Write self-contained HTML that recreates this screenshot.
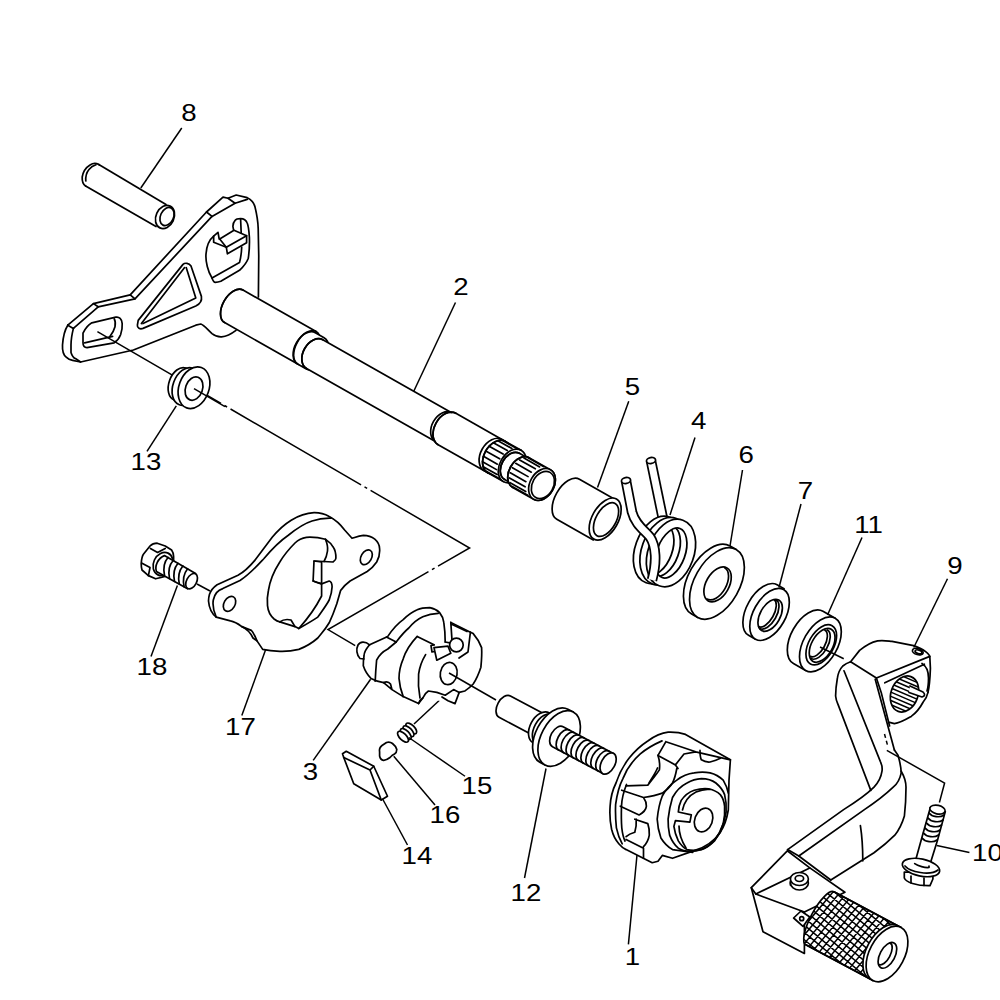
<!DOCTYPE html>
<html><head><meta charset="utf-8">
<style>
html,body{margin:0;padding:0;background:#fff;width:1000px;height:1000px;overflow:hidden}
svg{display:block}
text{font-family:"Liberation Sans",sans-serif;font-size:24.5px;fill:#000}
.s{fill:none;stroke:#000;stroke-width:1.7;stroke-linejoin:round;stroke-linecap:round}
.w{fill:#fff;stroke:#000;stroke-width:1.7;stroke-linejoin:round;stroke-linecap:round}
.l{fill:none;stroke:#000;stroke-width:1.5}
.d{fill:none;stroke:#000;stroke-width:1.5;stroke-dasharray:24 5 3 5}
</style></head><body>
<svg width="1000" height="1000" viewBox="0 0 1000 1000">
<!-- dash-dot axis lines -->
<g class="l">
<path d="M97.4,331.6 L469.6,548 L328,629.6 L355.2,645.6" style="stroke-dasharray:151 4 3 4;stroke-dashoffset:8"/>
<path d="M197,584 L210,591"/>
<path d="M414,724 L444,696"/>
</g>

<!-- PIN 8 -->
<g class="s">
<path d="M98.8,164.4 L166,204.5"/>
<path d="M85.6,186 L156,226.5"/>
<path d="M98.8,164.4 C96,163 93,163 90,165 C86,167.5 83,172 82.2,177 C82,181 83,184.5 85.6,186"/>
<path d="M85.8,181 C85.5,177 86.5,172.5 89,169.5 C91,167 93.5,165.5 96,164.8"/>
<ellipse cx="165" cy="217" rx="9" ry="12" transform="rotate(25 165 217)"/>
<ellipse cx="167" cy="216.5" rx="6.5" ry="9.5" transform="rotate(25 167 216.5)"/>
</g>

<!-- PLATE 2 -->
<g class="s">
<path d="M67.8,325.2 L93.4,303.6 L130.2,294.8 L206.5,212 L223,197.2 L228,198.25 L236.2,195 L247.2,197.7 C252,200 254,203 254.9,206.5 C257,215 258,222 258.2,228.5 L258.75,256 L258.4,297"/>
<path d="M73.4,328.4 L98.2,306.8 L135,298.8 L212,216.4 L235.1,203.2 L247.2,199.35"/>
<path d="M67.8,325.2 L73.4,328.4 M93.4,303.6 L98.2,306.8 M130.2,294.8 L135,298.8 M206.5,212 L212,216.4 M228,198.25 L235.1,203.2"/>
<path d="M67.8,325.2 C64,331 63,338 62.5,345 C62.2,351 63.5,355 66.2,357.2 C68,359 70,360 72.6,360.4 L80.6,362 L133.4,350 L195.8,325.2 L200.8,324 C204,325 207,329 212,333.6 C215,336 218,337 221.6,336.8 C226,336.5 230,335 236,330.4"/>
<path d="M73.4,328.4 C72,334 71,339.6 71,345 L71,352.4 C72,356 74,358 75.8,358.8 L80.6,362"/>
<!-- slot hole -->
<path d="M83,333.2 C85,329 88,325 91.8,322.8 L115.8,317.2 C119,316.5 122,319 122.2,323.6 C122.5,328 121.5,332 120.6,334.8 C119,339 117,341 114.2,342.8 L87,347.6 C84,347.6 83,345 83,342.8 Z"/>
<path d="M84.6,342.8 L112.6,336.4"/>
<path d="M114.2,318.8 C115.5,321 115.5,324 115,326.8 C114,331 112,334 109.4,337.2"/>
<!-- triangle cutout -->
<path d="M138.2,320.4 L183,264.4 C185,262.5 189,263 191,266 L201.4,296.4 C202,300 200,304 195.8,306 L143,328.4 C140,329.5 137,328 137.4,325.2 Z"/>
<path d="M141.4,323.6 L184.6,267.6"/>
<path d="M186.2,267.6 L195.8,298 L143,323.6"/>
<!-- right slot with key -->
<path d="M213.65,236.2 C209,240 206.5,247 206,254 C205.4,261.5 208,272 212,278 C213,281 214,282.4 215.3,282.4 C217,282.4 219,282 220.8,281.3 L239.5,270.3 C244,266 247,262 248.3,258.2 C249.5,250 249.6,243 249.4,237.3 C249,231 248.5,226 247.2,223 C246,220 243,218.6 240.6,218.6 C238,218.6 236,219 235.1,220.3 C233.5,222 233,224 232.9,226.3 L233.5,229.6"/>
<path d="M212,278 L239.5,262.6 C241,257 241.5,252 241.7,247.2"/>
<path d="M219.7,239 L234,230.2 L246.6,235.7 L226.3,247.2 Z"/>
<path d="M226.3,247.2 L227.4,253.8 L246.6,242.8 L246.6,235.7"/>
<path d="M213.65,236.2 L218,232.4 L219.2,239 L219.7,239 M213.65,236.2 L213.65,242.3 L226.3,247.2"/>
<path d="M240.6,219 L241.2,233"/>
</g>

<!-- SHAFT 2 -->
<g class="w">
<g transform="translate(542 484.5) rotate(29.5)">
<path d="M-356,-22 L-272,-22 A11,18.7 0 0 1 -272,15.4 L-356,15.4 A11,18.7 0 0 1 -356,-22 Z"/>
<path style="fill:none" d="M-356,-22 A11,18.7 0 0 0 -356,15.4"/>
<path d="M-272,-20.5 L-262,-20.5 A11.5,18 0 0 1 -262,15.5 L-272,15.5 A11.5,18 0 0 1 -272,-20.5 Z"/>
<path d="M-262,-18 L-114,-18 A11.5,16.5 0 0 1 -114,15 L-262,15 A11.5,16.5 0 0 1 -262,-18 Z"/>
<path style="fill:none" d="M-272,-22 A11,18.7 0 0 0 -272,15.4 M-262,-18 A11.5,16.5 0 0 0 -262,15"/>
<path d="M-110,-19.5 L-53,-19.5 A12.5,18 0 0 1 -53,16.5 L-110,16.5 A12.5,18 0 0 1 -110,-19.5 Z"/>
<path style="fill:none" d="M-114,-18 A11.5,16.5 0 0 0 -114,15 M-110,-19.5 A12.5,18 0 0 0 -110,16.5"/>
<path d="M-53,-19.5 L-35,-19.5 A12.5,18 0 0 1 -35,16.5 L-53,16.5 A12.5,18 0 0 1 -53,-19.5 Z"/>
<path style="fill:none" d="M-57,-19.5 A12.5,18 0 0 0 -57,16.5 M-53,-19.5 A12.5,18 0 0 0 -53,16.5"/>
<path d="M-56.24,15.89 L-40.24,15.89 M-59.94,13.47 L-43.94,13.47 M-62.92,9.46 L-46.92,9.46 M-64.84,4.29 L-48.84,4.29 M-65.5,-1.5 L-49.5,-1.5 M-64.84,-7.29 L-48.84,-7.29 M-62.92,-12.46 L-46.92,-12.46 M-59.94,-16.47 L-43.94,-16.47 M-56.24,-18.89 L-40.24,-18.89"/>
<path style="fill:none" d="M-35,-19.5 A12.5,18 0 0 0 -35,16.5"/>
<path d="M-35,-16 L-24,-16 A10.5,15 0 0 1 -24,14 L-35,14 A10.5,15 0 0 1 -35,-16 Z"/>
<path style="fill:none" d="M-35,-16 A10.5,15 0 0 0 -35,14"/>
<path d="M-24,-17 L0,-17 A12,17 0 0 1 0,17 L-24,17 A12,17 0 0 1 -24,-17 Z"/>
<path style="fill:none" d="M-24,-17 A12,17 0 0 0 -24,17"/>
<path d="M-25.11,16.42 L-7.11,16.42 M-28.67,14.13 L-10.67,14.13 M-31.52,10.35 L-13.52,10.35 M-33.36,5.46 L-15.36,5.46 M-34,0 L-16,0 M-33.36,-5.46 L-15.36,-5.46 M-31.52,-10.35 L-13.52,-10.35 M-28.67,-14.13 L-10.67,-14.13 M-25.11,-16.42 L-7.11,-16.42"/>
<ellipse cx="0" cy="0" rx="12" ry="17"/>
<ellipse cx="1" cy="0" rx="10.5" ry="14.5"/>
</g></g>
<!-- WASHER 13 -->
<g class="w">
<ellipse cx="180" cy="384" rx="11" ry="17" transform="rotate(20 180 384)"/>
<ellipse cx="186" cy="386.5" rx="13" ry="19.5" transform="rotate(20 186 386.5)"/>
<ellipse cx="194" cy="387.7" rx="15" ry="21.5" transform="rotate(20 194 387.7)"/>
<ellipse cx="194" cy="388.6" rx="8.5" ry="12" transform="rotate(20 194 388.6)"/>
</g>
<path class="l" d="M194,388.6 L225,406.7"/>

<!-- AXIS PARTS 5 6 7 11 -->
<g class="w">
<g transform="translate(542 484.5) rotate(29.5)">
<path d="M30,-23 L72,-23 L72,23 L30,23 A13,23 0 0 1 30,-23 Z"/>
<ellipse cx="72" cy="-1" rx="13" ry="23"/>
<ellipse cx="73" cy="-1" rx="10" ry="18.5"/>
<path d="M194,-39 L201,-39 L201,39 L194,39 A22.5,39 0 0 1 194,-39 Z"/>
<ellipse cx="201" cy="0" rx="22.5" ry="39"/>
<ellipse cx="202" cy="0.5" rx="11.5" ry="19"/>
<path style="fill:none" d="M200,-17.5 A10.5,18 0 0 1 200,18.5"/>
<path d="M254,-28.5 L262,-28.5 L262,29.5 L254,29.5 A16,29 0 0 1 254,-28.5 Z"/>
<ellipse cx="262" cy="1" rx="16" ry="28.5"/>
<ellipse cx="263" cy="1.5" rx="10" ry="17.5"/>
<path style="fill:none" d="M260.5,-15 A8.5,16.5 0 0 1 260.5,18 M258.5,-14 A7.5,15.5 0 0 1 258.5,17"/>
<path d="M307,-28 L321,-28 L321,32 L307,32 A17,30 0 0 1 307,-28 Z"/>
<ellipse cx="321" cy="2" rx="17" ry="30"/>
<ellipse cx="322" cy="2" rx="12.5" ry="22"/>
<ellipse cx="323" cy="2" rx="10.5" ry="18.5"/>
<path style="fill:none" d="M320,-14 A8.5,16.5 0 0 1 320,19 M318,-12.5 A7.5,15 0 0 1 318,17.5"/>
</g></g>
<!-- SPRING 4 -->
<path d="M651,461 L664,524" style="fill:none;stroke:#000;stroke-width:10.5;stroke-linecap:butt"/><path d="M651,461 L664,524" style="fill:none;stroke:#fff;stroke-width:7;stroke-linecap:butt"/>
<ellipse class="w" cx="651" cy="460.5" rx="4.6" ry="3.0" transform="rotate(-12 651 460.5)"/>
<ellipse cx="658" cy="550.0" rx="18.5" ry="30.5" transform="rotate(20 658 550.0)" style="fill:none;stroke:#000;stroke-width:10.5"/>
<ellipse cx="658" cy="550.0" rx="18.5" ry="30.5" transform="rotate(20 658 550.0)" style="fill:none;stroke:#fff;stroke-width:7"/>
<ellipse cx="664.5" cy="551.3" rx="18.5" ry="30.5" transform="rotate(20 664.5 551.3)" style="fill:none;stroke:#000;stroke-width:10.5"/>
<ellipse cx="664.5" cy="551.3" rx="18.5" ry="30.5" transform="rotate(20 664.5 551.3)" style="fill:none;stroke:#fff;stroke-width:7"/>
<ellipse cx="671" cy="553.0" rx="18.5" ry="30.5" transform="rotate(20 671 553.0)" style="fill:none;stroke:#000;stroke-width:10.5"/>
<ellipse cx="671" cy="553.0" rx="18.5" ry="30.5" transform="rotate(20 671 553.0)" style="fill:none;stroke:#fff;stroke-width:7"/>
<path d="M626,481 L632,512 C635,524 644,530 650,537 C656,546 657,562 652,580" style="fill:none;stroke:#000;stroke-width:10.5;stroke-linecap:butt"/><path d="M626,481 L632,512 C635,524 644,530 650,537 C656,546 657,562 652,580" style="fill:none;stroke:#fff;stroke-width:7;stroke-linecap:butt"/>
<ellipse class="w" cx="626" cy="480.5" rx="4.6" ry="3.0" transform="rotate(-12 626 480.5)"/>
<!-- PEDAL 9 -->
<g class="w">
<!-- arm fill silhouette -->
<path style="stroke:none" d="M850.6,661.8 L842.8,666 L837.4,678 L835.6,696 L838,704.4 L870.8,790.4 L825,830 L787.6,849.6 L751.3,887.7 L763,931.8 L804.4,953.4 L830.8,880 L874,852.8 L894.8,835.2 L904.4,816 L906,787.2 L901.2,771.2 L898,755.2 L894.4,723.6 L911.2,716.4 L923.2,702 L930.4,668.4 L929.8,656.4 L925.6,651.6 L913.6,645.6 L892,641.4 L877.6,640.8 L859.6,650.4 Z"/>
</g>
<g class="s">
<path d="M850.6,661.8 L859.6,650.4 C866,645 872,642 877.6,640.8 C884,640 888,641 892,641.4 L913.6,645.6 C919,647.5 923,649.5 925.6,651.6 C928,653.5 929.5,655 929.8,656.4 L930.4,668.4 C930,680 929,688 928,692.4"/>
<path d="M850.6,661.8 L876.4,678 L929.8,656.4"/>
<path d="M884.8,682.8 L924.4,664.2"/>
<path d="M876.4,678 L881.2,692.4 L889.6,726"/>
<path d="M875.2,679.2 L894.4,750"/>
<path d="M928,692.4 C927,697 925,700 923.2,702 C920,708 916,713 911.2,716.4 C905,720 900,723 894.4,723.6 L889.6,722.4"/>

<defs><clipPath id="bc"><ellipse cx="904.5" cy="694" rx="13.5" ry="18.5" transform="rotate(20 904.5 694)"/></clipPath></defs><path clip-path="url(#bc)" style="fill:none;stroke:#000;stroke-width:1.5" d="M884,664.0 L926,682.0 M884,668.2 L926,686.2 M884,672.4 L926,690.4 M884,676.6 L926,694.6 M884,680.8 L926,698.8 M884,685.0 L926,703.0 M884,689.2 L926,707.2 M884,693.4 L926,711.4 M884,697.6 L926,715.6 M884,701.8 L926,719.8 M884,706.0 L926,724.0"/><ellipse cx="904.5" cy="694" rx="13.5" ry="18.5" transform="rotate(20 904.5 694)"/><path d="M922,663.5 C926,666 928.5,671 928.5,678 C928.5,684 928,688 927,691"/>
<path class="w" d="M910,686 L923,692 C925,694 925.5,696 922,697 L909,692.5"/>
<ellipse cx="917.8" cy="651.6" rx="5.5" ry="3" transform="rotate(15 917.8 651.6)"/>
<ellipse cx="918.5" cy="651.8" rx="3.5" ry="1.8" transform="rotate(15 918.5 651.8)"/>
<!-- arm -->
<path d="M850.6,661.8 C847,663 844,665 842.8,666 C839,670 838,674 837.4,678 C836,686 835.6,690 835.6,696 C836,700 837,702 838,704.4 L870.8,790.4"/>
<path d="M844,670.8 L880.4,761.6 C882,765 882.5,768 882,771.2 C881,778 878,783 874,787.2 C866,795 856,802 843.6,809.6 L787.6,849.6"/>
<path d="M894.4,750 L898,755.2 C900,762 901,767 901.2,772.8 C900,779 897,784 893.2,787.2 C884,796 876,802 864.4,809.6 L798.8,856"/>
<path d="M901.2,771.2 C904,776 906,781 906,787.2 C906,798 905.5,806 904.4,816 C902,824 899,830 894.8,835.2 C888,842 882,847 874,852.8 L830.8,880"/>
<path d="M860.4,825.6 C862,836 862.8,848 862.8,860.8"/>
<path d="M787.6,849.6 L798.8,856 L830.8,880"/>
<!-- foot block -->
<path class="w" d="M751.3,887.7 L787.3,850.8 L809.8,867.9 L844.9,892.2 L804.4,912 L804.4,953.4 L763,931.8 Z" style="fill:#fff"/>
<path d="M751.3,887.7 L755.8,894 L804.4,912"/>
<path d="M755.8,894 L809.8,867.9"/>
<ellipse class="w" cx="799.4" cy="883" rx="9" ry="7" style="fill:#fff"/>
<path d="M790.4,881 L790.4,885" />
<ellipse cx="799.4" cy="879" rx="9" ry="6.5" style="fill:#fff"/>
<ellipse cx="799.4" cy="878.5" rx="4.2" ry="3"/>
</g>
<defs><clipPath id="kc"><path d="M-76,-30 L-4,-30 L-4,30 L-76,30 A9,30 0 0 1 -76,-30 Z" transform="translate(887 954) rotate(28)"/></clipPath>
<pattern id="kp" width="5.6" height="5.6" patternUnits="userSpaceOnUse" patternTransform="rotate(40)"><path d="M0,0 L0,5.6 M0,0 L5.6,0" style="stroke:#000;stroke-width:1.6;fill:none"/></pattern></defs>
<g class="w"><g transform="translate(887 954) rotate(28)">
<path d="M-76,-30 L0,-30 L0,30 L-76,30 A9,30 0 0 1 -76,-30 Z"/>
</g></g>
<path clip-path="url(#kc)" style="fill:none;stroke:#000;stroke-width:1.5" d="M848.0,786.4 L985.9,902.1 M844.4,790.6 L982.3,906.3 M840.8,794.9 L978.7,910.6 M837.2,799.2 L975.1,914.9 M833.6,803.5 L971.5,919.2 M830.1,807.8 L967.9,923.5 M826.5,812.1 L964.3,927.8 M822.9,816.4 L960.7,932.1 M819.3,820.7 L957.1,936.4 M815.7,825.0 L953.5,940.7 M812.1,829.3 L949.9,945.0 M808.5,833.5 L946.3,949.2 M804.9,837.8 L942.7,953.5 M801.3,842.1 L939.1,957.8 M797.7,846.4 L935.5,962.1 M794.1,850.7 L931.9,966.4 M790.5,855.0 L928.3,970.7 M786.9,859.3 L924.7,975.0 M783.3,863.6 L921.1,979.3 M779.7,867.9 L917.5,983.6 M776.1,872.1 L913.9,987.9 M772.5,876.4 L910.3,992.1 M768.9,880.7 L906.7,996.4 M765.3,885.0 L903.1,1000.7 M761.7,889.3 L899.5,1005.0 M758.1,893.6 L895.9,1009.3 M754.5,897.9 L892.3,1013.6 M750.9,902.2 L888.7,1017.9 M747.3,906.5 L885.1,1022.2 M743.7,910.8 L881.5,1026.5 M740.1,915.0 L877.9,1030.7 M736.5,919.3 L874.3,1035.0 M732.9,923.6 L870.7,1039.3 M729.3,927.9 L867.1,1043.6 M725.7,932.2 L863.5,1047.9 M722.1,936.5 L859.9,1052.2 M718.5,940.8 L856.4,1056.5 M714.9,945.1 L852.8,1060.8 M711.3,949.4 L849.2,1065.1 M707.7,953.7 L845.6,1069.4 M704.1,957.9 L842.0,1073.6 M988.6,933.0 L872.9,1070.9 M984.4,929.4 L868.7,1067.3 M980.1,925.8 L864.4,1063.7 M975.8,922.2 L860.1,1060.1 M971.5,918.6 L855.8,1056.5 M967.2,915.1 L851.5,1052.9 M962.9,911.5 L847.2,1049.3 M958.6,907.9 L842.9,1045.7 M954.3,904.3 L838.6,1042.1 M950.0,900.7 L834.3,1038.5 M945.7,897.1 L830.0,1034.9 M941.5,893.5 L825.8,1031.3 M937.2,889.9 L821.5,1027.7 M932.9,886.3 L817.2,1024.1 M928.6,882.7 L812.9,1020.5 M924.3,879.1 L808.6,1016.9 M920.0,875.5 L804.3,1013.3 M915.7,871.9 L800.0,1009.7 M911.4,868.3 L795.7,1006.1 M907.1,864.7 L791.4,1002.5 M902.9,861.1 L787.1,998.9 M898.6,857.5 L782.9,995.3 M894.3,853.9 L778.6,991.7 M890.0,850.3 L774.3,988.1 M885.7,846.7 L770.0,984.5 M881.4,843.1 L765.7,980.9 M877.1,839.5 L761.4,977.3 M872.8,835.9 L757.1,973.7 M868.5,832.3 L752.8,970.1 M864.2,828.7 L748.5,966.5 M860.0,825.1 L744.3,962.9 M855.7,821.5 L740.0,959.3 M851.4,817.9 L735.7,955.7 M847.1,814.3 L731.4,952.1 M842.8,810.7 L727.1,948.5 M838.5,807.1 L722.8,944.9 M834.2,803.5 L718.5,941.4 M829.9,799.9 L714.2,937.8 M825.6,796.3 L709.9,934.2 M821.3,792.7 L705.6,930.6 M817.1,789.1 L701.4,927.0"/>
<g class="w"><g transform="translate(887 954) rotate(28)">
<path d="M-76,-30 L-4,-30 M-76,30 L-4,30" style="fill:none"/>
<path d="M-4,-30 L0,-30 L0,30 L-4,30 A17,30 0 0 1 -4,-30 Z"/>
<ellipse cx="0" cy="0" rx="17.5" ry="30"/>
<ellipse cx="1" cy="1" rx="7.5" ry="14"/>
<path d="M-2,-11 A5.5,12 0 0 1 -2,13" style="fill:none"/>
</g></g>
<path class="w" d="M793.6,918 L801,911 L809.8,917 L803,926.4 Z"/><circle class="s" cx="801.7" cy="918.7" r="2"/>
<path class="l" d="M886.8,750.4 L944.6,783 L939.4,802.5"/><path class="l" d="M884.5,734 L888,747" style="stroke-dasharray:4 3"/>
<!-- BOLT 10 -->
<g class="w">
<path d="M930.3,807.7 L921.9,837.6 L914.7,863.6 L929,867.5 L937.5,840.2 L945.3,811.6 Z"/>
<ellipse cx="937.5" cy="809.6" rx="7.8" ry="4.3" transform="rotate(12 937.5 809.6)"/>
<path style="fill:none" d="M929,813 C932,817 940,818 944,815 M928,818 C931,822 939,823 943,820 M926.5,823 C929.5,827 937.5,828 941.5,825 M925,828 C928,832 936,833 940,830 M923.5,833 C926.5,837 934.5,838 938.5,835 M922,838 C925,842 933,843 937,840"/>
<path d="M904.3,872 L904.3,878 C906,882 916,886 930,885.7 L932.9,879 L932.9,873 Z"/>
<path style="fill:none" d="M911,876 L911,883 M924,878 L924,885.5"/>
<ellipse cx="921" cy="867.5" rx="19" ry="8.5" transform="rotate(12 921 867.5)"/>
<path style="fill:none" d="M905,866 C910,872 930,876 938,870"/>
<path d="M914.7,863.6 C918,866 925,868 929,867.5 L929,866"/>
</g>

<!-- BOLT 18 -->
<g class="w">
<path d="M141.2,563.6 C141.5,559 142,556 143.6,554 L150,546 C152,544 155,543.2 157.2,543.2 L165.2,546 L171.6,550 C173,552 173.6,554 173.6,556.4 L173.6,566 C172,572 168,576 162,577.2 L155.6,578.8 L148.4,575.6 L142,570 C141.4,568 141.2,566 141.2,563.6 Z"/>
<path style="fill:none" d="M150.4,548.4 L157.6,552.4 L165.2,548.4 M142,563.2 L150,567.6 M150,567.6 L148.4,575.6"/>
<ellipse cx="163" cy="564" rx="9.5" ry="12" transform="rotate(25 163 564)"/>
<path d="M164.4,555.6 L195.6,573.6 L187.6,588.8 L156.4,571.6 C154.5,566 158,558 164.4,555.6 Z"/>
<ellipse cx="191.6" cy="581.2" rx="5" ry="8.3" transform="rotate(28 191.6 581.2)"/>
<path style="fill:none" d="M168,557.5 C164,562 163,568 164.5,575.5 M173.2,560.5 C169,565 168,571 169.5,578.5 M178,563.3 C174,568 173,574 174.5,581.3 M182.8,566 C178.8,571 177.8,577 179.3,584 M187.6,568.8 C183.6,573.8 182.6,579.8 184.1,586.8"/>
</g>

<!-- PLATE 17 -->
<g class="w">
<path d="M209.5,594.3 C211,590 214,587 217.1,584.8 L238,575.3 C246,571 251,565 255.1,560.1 L272.2,537.3 C279,529 285,524 291.2,520.2 C298,516 306,513 314,512.6 C320,512.5 325,514 329.2,516.4 C336,520 341,525 344.4,529.7 L352,538.3 C356,537 359,535.8 363.4,535.4 C368,535.5 372,537 374.8,539.2 C378,542 379.5,545 379.6,548.7 C380,554 379,558 376.7,562 C374,566 371,569 367.2,571.5 L350.1,581 C346,584 343,587 340.6,590.5 L336.8,603.8 C334,612 332,617 329.2,622.8 C325,630 321,634 317.8,638 C311,644 305,647 298.8,649.4 C292,651 286,651.5 279.8,651.3 C273,651 268,650.5 262.7,649.4 L257,640.9 C255,636 253,632 251.3,630.4 L241.8,626.6 C237,623 234,621.5 230.4,620.9 L216.2,617.1 C211,613 209,607 208.5,601 C208.5,598 209,596 209.5,594.3 Z"/>
<path style="fill:none" d="M216.2,617.1 C213.5,611 212.5,605 213.3,600 C214.5,594 218,590 222.8,588.6 L240,580.5 C250,574 257,566 264,558.5 C272,549 280,541 288,535.5 C296,529 304,523.5 312,521 C318,519 324,518 331,518.2"/>
<path style="fill:none" d="M241.8,626.6 C247,629 251,634 253,638 L257,640.9"/>
<ellipse cx="229.5" cy="603.8" rx="5.5" ry="8" transform="rotate(30 229.5 603.8)"/>
<ellipse cx="366.3" cy="557.3" rx="5.2" ry="8" transform="rotate(30 366.3 557.3)"/>
<path d="M325.4,539.2 C319,537.5 312,537 306.4,537.3 C301,538 298,540 295,543 C289,549 284,555 279.8,562 C274,571 270,580 268.4,590.5 C267,597 267,601 267.5,605.7 C268,611 270,615.5 274.1,619 C276,620.5 278,621.5 279.8,621.9 L295,626.6 L298.8,628.5 C305,625 312,621 317.8,617.1 C322,611 326,606 329.2,600 C331,595 332,590 332.1,586.7 C332,583 331,581.5 329.2,581 L321.6,583.9 L313.1,581 L314,561 L333,562 C335,560.5 335.9,559 335.9,558.2 C336,553 335,549.5 333,546.8 C331,543 328,541 325.4,539.2 Z"/>
<path style="fill:none" d="M325.4,539.2 C327,543 328,547 327.5,551 C327,555 326,558 324,561.5 M313.1,581 L317,582.5 L321.6,583.9 L321.6,596 C317,605 311,615 298.8,628.5 M314,561 L321.6,562 L321.6,583.9"/>
<path style="fill:none" d="M279.8,621.9 C283,619.5 287,619 291,620 L295,626.6"/>
</g>

<!-- PART 3 -->
<g class="w">
<!-- silhouette fill -->
<path style="stroke:none" d="M357,650 L370,642 L387.8,636.4 L403.2,619.6 L417.2,609.8 L429.8,607.7 L439.6,612.6 L443.8,622.4 L450.8,622.4 L470.4,632.2 L481.6,647.6 L480.9,667.2 L473.2,684 L459.2,692.4 L455,703.6 L422.8,698 L418.6,703.6 L392,689.6 L383.6,682.6 L371,678.4 L363.3,665.8 L357,658 Z"/>
<path d="M369.6,644.8 C365,641 360,641.5 358,645 C356,649 356.5,655 360,658.5 L364,659"/>
<path d="M369.6,644.8 C366,649 364,653 364,656 C363.3,660 363.3,663 363.3,665.8 C365,671 368,675.5 371,678.4 C375,680.5 379,682 383.6,682.6" style="fill:none"/>
<path style="fill:none" d="M369.6,644.8 L387.8,636.4 C392,630 397,624 403.2,619.6 C408,615 412,612 417.2,609.8 C421,608 425,607.7 429.8,607.7 C434,608.5 437,610 439.6,612.6 C442,615.5 443.3,618.5 443.8,622.4 C444.8,629 445.2,636 445.2,642"/>
<path style="fill:none" d="M396.2,642 C400,637 404,632 408.8,628 C413,623 418,619 422.8,616.8 C428,614.5 433,613.5 438.2,613.3 M386.4,637.1 L396.2,642"/>
<path style="fill:none" d="M375.2,681.2 C375.5,674 376,667 376.6,660.2 C379,655 383,651.5 387.8,649 L396.2,642"/>
<path style="fill:none" d="M417.2,636.4 C411,643 406,650 403.2,658.8 C400.5,665 399,672 399,678.4 C399.5,685 401,691 403.2,696.6 M417.2,636.4 L434,644.8"/>
<path style="fill:none" d="M425.6,654.6 C422,660.5 419.5,667 418.6,674.2 C418,682 418.5,690 420,698"/>
<path style="fill:none" d="M445.2,642 L452.2,643.4 M450.8,622.4 L470.4,632.2 L473.2,633.6 C477,638 480,643 481.6,647.6 C482,654 481.5,661 480.9,667.2 C479,673 476.5,679 473.2,684 C470,687.5 467,689.5 464.8,691 L459.2,692.4"/>
<path style="fill:none" d="M450.8,622.4 L452.2,643.4 M470.4,632.2 L468,652 L459,658 M452.2,624.5 L467,631.5"/>
<circle cx="456.4" cy="645" r="6.8"/>
<path style="fill:none" d="M434,647.6 L448,646.2 L450.8,653.2 L436.8,660.2 Z M434,644.8 L431,645.5 L432,652 L434,651.5"/>
<ellipse cx="448.7" cy="673.5" rx="8.4" ry="11.2" transform="rotate(10 448.7 673.5)"/>
<path style="fill:none" d="M383.6,682.6 L392,689.6 L403.2,696.6 L418.6,703.6 L422.8,698 C424,695 426,692.5 428.4,691 L436.8,692.4 L445.2,695.2 L453.6,689.6 L459.2,692.4 L455,703.6 L448,700.8 L442,697 M383.6,682.6 C386,681.5 389,682 390.5,684 L392,689.6"/>
<path style="fill:none" d="M418.6,703.6 C419.5,700.5 421,699 422.8,698"/>
</g>

<path class="l" d="M449,673 L496,700"/>
<!-- SPRING 15, PIN 16, PAWL 14 -->
<g class="w">
<ellipse cx="411.25" cy="728.50" rx="7" ry="3.3" transform="rotate(45 411.25 728.50)"/>
<ellipse cx="408.50" cy="731.25" rx="7" ry="3.3" transform="rotate(45 408.50 731.25)"/>
<ellipse cx="405.75" cy="734.00" rx="7" ry="3.3" transform="rotate(45 405.75 734.00)"/>
<ellipse cx="403.00" cy="736.75" rx="7" ry="3.3" transform="rotate(45 403.00 736.75)"/>
<path d="M379.6,752 C379,749 380,747 382,745.5 L386.5,742.5 C388.5,741.8 390.5,742 392.5,743.5 C395,745.5 396.5,747.5 396.8,749.5 C396.8,751 396,753 394.5,754 L392,755.5 L390,757.5 C388,759 386,760.5 383.5,760.3 C381.5,760 380,758 379.6,756 Z"/>
<path d="M342.5,753.75 L346.25,751.25 L373.75,766.25 L387.5,796.25 L381.25,800 L353.75,783.75 L343.75,757.5 Z"/>
<path style="fill:none" d="M343.75,757.5 L370,770 L381.25,800 M370,770 L373.75,766.25"/>
</g>
<!-- PART 12 -->
<g class="w">
<g transform="translate(607.7 764.3) rotate(28)">
<path d="M-118,-14.7 L-78,-14.7 L-78,9.5 L-118,9.5 A7.5,12.1 0 0 1 -118,-14.7 Z"/>
<path d="M-76,-18 L-62,-18 L-62,16 L-76,16 A11,17 0 0 1 -76,-18 Z"/>
<path style="fill:none" d="M-72,-18 A10.5,17 0 0 0 -72,16"/>
<path d="M-61,-30 L-55,-30 L-55,30 L-61,30 A18,30 0 0 1 -61,-30 Z"/>
<ellipse cx="-55" cy="0" rx="18" ry="30"/>
<path d="M-57,-12.2 L0,-12.2 L0,10.4 L-57,10.4 A7,11.3 0 0 1 -57,-12.2 Z"/>
<path style="fill:none" d="M-50,-12.2 A6.5,11.3 0 0 0 -50,10.4 M-44.4,-12.2 A6.5,11.3 0 0 0 -44.4,10.4 M-38.8,-12.2 A6.5,11.3 0 0 0 -38.8,10.4 M-33.2,-12.2 A6.5,11.3 0 0 0 -33.2,10.4 M-27.6,-12.2 A6.5,11.3 0 0 0 -27.6,10.4 M-22,-12.2 A6.5,11.3 0 0 0 -22,10.4 M-16.4,-12.2 A6.5,11.3 0 0 0 -16.4,10.4 M-10.8,-12.2 A6.5,11.3 0 0 0 -10.8,10.4 M-5.2,-12.2 A6.5,11.3 0 0 0 -5.2,10.4"/>
<ellipse cx="0" cy="-0.9" rx="6.8" ry="11.5"/>
</g></g>
<!-- PART 1 -->
<g class="w">
<path d="M685.5,734.4 C680,732.5 674,732 668.1,732.2 C661,733 654,736.5 647.8,741 C640,746 634,752 629,758.3 C623,766 619,774 616,783 C612,791 610.5,799 610.1,806.2 C609.5,815 610,822 611.6,829.3 C613,835 615.5,840 618.8,843.8 C621,846.5 623.5,848.5 626.1,849.6 L652.2,862.7 L658,861.2 L662.3,855.4 L672.5,858.3 L692.8,851.1 C705,848 715,840 720.3,832.2 C725,825 727,818 728.3,810 L729,780.1 L730.4,759.8 Z"/>
<path style="fill:none" d="M662.0,740.9 C653.8,744.5 646.8,748.5 640.3,753.9 C632.8,760.5 626.8,768.5 622.9,778.6 C618.8,786.5 616.8,795.5 615.6,804.7 C615.3,812.5 615.6,820.5 616.4,827.8 C617.8,834.5 619.8,839.5 622.2,843.8"/>
<path style="fill:none" d="M626.5,784.5 C623.5,792 621.8,799 621.5,806 C621.2,815 621.3,822 621.8,828 C622.5,834 623.5,838 625,841"/>
<path style="fill:none" d="M665.9,741.7 L658,755.4 L675.4,764.9 L684,754 L695.7,751.8 L730.4,759.8 M665.9,741.7 L695.7,751.8 M675.4,764.9 L678,768.5 L676.8,768.5"/>
<path style="fill:none" d="M700,750.4 C700,755 700.5,758 701.4,759.8 C704,761.5 707,762.3 710.1,762 C714,761 717.5,759.8 720.3,758.3"/>
<path style="fill:none" d="M626.1,785.9 L647.8,785.1 C652,780 656,775 659.4,769.9 C660,765 659.5,760 658,755.4 M649,783 C652,778 655.5,773 657.5,768"/>
<path style="fill:none" d="M621.7,790.2 L643.5,797.5 C646,801 646.5,803.5 646.4,806.2 C646,810 643,813 639.1,814.9 L620.3,806.2 M643.5,797.5 C650,796.5 657,795 662.3,793.1 C667,790 670,787 672.5,783 C675,778 676,773 676.8,768.5"/>
<path style="fill:none" d="M634.8,819.2 L647.8,823.6 C649,827 649.5,831 649.3,835.1 C648.5,840 646.5,843.5 643.5,846.7 M626.1,836.6 C629,834 632,833 634.8,832.2 C636,828 636.5,823 636.2,819.2 M626.1,839.5 L643.5,848.2 L643.5,858"/>
<path style="fill:none" d="M657.2,819.2 C658,811 659.5,803 662.3,796 C666,789 671,784 676.8,780.1 C682,776 688,773.5 694.2,772.8 C700,772 705,772 710.1,772.8 C715,774 719.5,776.5 723.2,780.1 C725.5,784 727.5,788.5 728.3,793.1 M657.2,819.2 C657.5,826 659,832.5 660.9,838 C664,843 668,847 672.5,849.6 L692.8,852.5"/>
<path style="fill:none" d="M668.1,819.2 C669,811 670.5,804 672.5,797.5 C676,791 681,786 687,783 C692,780 696.5,778.8 701.4,778.6 C707,778.6 712,780 715.9,783 C720,786.5 723,790 724.6,794.6 C726,800 726.5,806 726.1,812 C725,819 723,826 720.3,832.2 C716,839 712,843.5 707.2,846.7 C702,849.5 697,851 692.8,851.1 C687,851.5 682,850.5 678.3,848.2 C674.5,845 671.5,840 669.6,835.1 C668.5,830 668,825 668.1,819.2"/>
<path style="fill:none" d="M678.3,812 C678.5,808 679.5,804 681.2,800.4 C684.5,795.5 689,792 694.2,790.2 C699,788.8 704,788.3 708.7,788.8 C713.5,790 717.5,792 720.3,794.6 C723,798 724.2,802 724.6,806.2 C725,812 724.5,818 723.2,823.6 C721,830 718,836 714.5,840.9 C710.5,845 706,848 701.4,849.6 C696,850.5 691,850.5 687,849.6 C683,847.5 680.5,844.5 678.3,840.9 C676,836 674.5,831 673.9,826.4 L675.4,820.7 L689.9,822.1 L691.3,814.9 L678.3,812"/>
<path style="fill:none" d="M682.5,810 C684,803 688,796 696,792 C702,789.5 707,789 710,789.5 M679,826 C679,832 681,840 686,848"/>
<ellipse cx="703.6" cy="820" rx="8.8" ry="12.3" transform="rotate(20 703.6 820)"/>
</g>

<path class="l" d="M820,647 L843.75,658.75"/>
<!-- labels -->
<g text-anchor="middle">
<text transform="translate(189 121) scale(1.13 1)" x="0" y="0">8</text>
<text transform="translate(461 294.5) scale(1.13 1)" x="0" y="0">2</text>
<text transform="translate(632.5 395) scale(1.13 1)" x="0" y="0">5</text>
<text transform="translate(698.75 429) scale(1.13 1)" x="0" y="0">4</text>
<text transform="translate(746.25 462.5) scale(1.13 1)" x="0" y="0">6</text>
<text transform="translate(805.5 499) scale(1.13 1)" x="0" y="0">7</text>
<text transform="translate(868.5 532.5) scale(1.13 1)" x="0" y="0">11</text>
<text transform="translate(955 573.75) scale(1.13 1)" x="0" y="0">9</text>
<text transform="translate(987.5 861) scale(1.13 1)" x="0" y="0">10</text>
<text transform="translate(146 470) scale(1.13 1)" x="0" y="0">13</text>
<text transform="translate(152 675.2) scale(1.13 1)" x="0" y="0">18</text>
<text transform="translate(240.4 735.2) scale(1.13 1)" x="0" y="0">17</text>
<text transform="translate(310.5 780) scale(1.13 1)" x="0" y="0">3</text>
<text transform="translate(476.9 793.75) scale(1.13 1)" x="0" y="0">15</text>
<text transform="translate(445 822.5) scale(1.13 1)" x="0" y="0">16</text>
<text transform="translate(416.9 863.75) scale(1.13 1)" x="0" y="0">14</text>
<text transform="translate(525.9 900.8) scale(1.13 1)" x="0" y="0">12</text>
<text transform="translate(632.4 965.2) scale(1.13 1)" x="0" y="0">1</text>
</g>

<!-- leader lines -->
<g class="l">
<path d="M181.75,128 L140.8,188"/>
<path d="M455.5,302.5 L413.75,391.25"/>
<path d="M628.75,401.25 L597.5,487.5"/>
<path d="M695,437.5 L670,515"/>
<path d="M742.5,470 L730,546"/>
<path d="M801,504 L779,587.5"/>
<path d="M862,537.5 L827.5,615"/>
<path d="M947.5,578.75 L913.75,647.5"/>
<path d="M936.8,845.4 L969.4,852.5"/>
<path d="M176.3,405.9 L147,451.4"/>
<path d="M177.4,585.4 L151,656.4"/>
<path d="M265.6,649.8 L241.8,715.6"/>
<path d="M370.6,679.2 L313.2,760.4"/>
<path d="M408.75,737.5 L465,776.25"/>
<path d="M393.75,756.25 L435,805"/>
<path d="M382.5,798.75 L407.5,845"/>
<path d="M546,768.5 L524.5,878"/>
<path d="M637,855 L628.4,944.4"/>
</g>


</svg>
</body></html>
